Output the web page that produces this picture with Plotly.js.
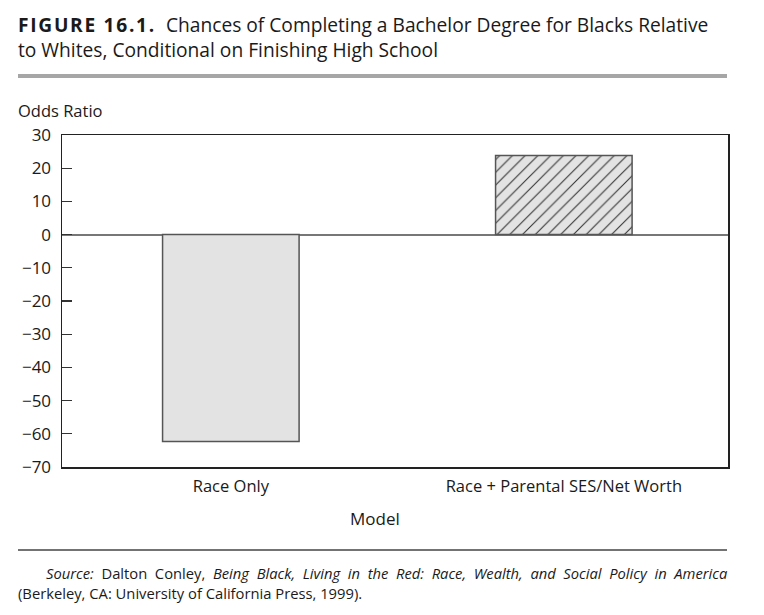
<!DOCTYPE html>
<html>
<head>
<meta charset="utf-8">
<script src="https://cdn.plot.ly/plotly-3.0.1.min.js"></script>
<style>html,body{margin:0;padding:0;background:#fff;}#chart{width:764px;height:615px;}</style>
</head>
<body>
<div id="chart"></div>
<script>
// ---- data ----
const categories = ["Race Only", "Race + Parental SES/Net Worth"];
const oddsRatio = [-62.3, 23.8];
const yTickValues = [30, 20, 10, 0, -10, -20, -30, -40, -50, -60, -70];
const titleLine1Bold = "FIGURE 16.1.";
const titleLine1 = "Chances of Completing a Bachelor Degree for Blacks Relative";
const titleLine2 = "to Whites, Conditional on Finishing High School";
const yTitle = "Odds Ratio";
const xTitle = "Model";
const sourceLine1 = '<span style="word-spacing:3.8px"><i>Source:</i> Dalton Conley, <i>Being Black, Living in the Red: Race, Wealth, and Social Policy in America</i></span>';
const sourceLine2 = "(Berkeley, CA: University of California Press, 1999).";

// ---- layout helpers (pixel -> paper) ----
const W = 764, H = 615, L = 62, R = 36, T = 135, B = 148;
const pw = W - L - R, ph = H - T - B;
const px = x => (x - L) / pw;
const py = y => (H - B - y) / ph;

const FONT = "Open Sans, Noto Sans, sans-serif";
const TXT = "#1a1a1a";

const trace = {
  type: "bar",
  x: categories,
  y: oddsRatio,
  width: 0.41,
  marker: {
    color: "#e3e3e3",
    line: {color: "#555555", width: 1.5},
    pattern: {
      shape: ["", "/"],
      bgcolor: "#e3e3e3",
      fgcolor: "#333333",
      size: 9,
      solidity: 0.12,
      fillmode: "replace"
    }
  },
  hoverinfo: "skip"
};

const layout = {
  width: W, height: H,
  margin: {l: L, r: R, t: T, b: B, pad: 0},
  paper_bgcolor: "#ffffff",
  plot_bgcolor: "#ffffff",
  showlegend: false,
  font: {family: FONT, color: TXT, size: 16},
  xaxis: {
    type: "category",
    range: [-0.507, 1.493],
    showline: true, mirror: true, linecolor: "#222222", linewidth: 1.5,
    ticks: "", showgrid: false, zeroline: false,
    tickfont: {family: FONT, size: 16.5, color: TXT},
    ticklabelstandoff: 4
  },
  yaxis: {
    range: [-70, 30],
    tickvals: yTickValues,
    ticks: "inside", ticklen: 10, tickwidth: 1.3, tickcolor: "#333333",
    showline: true, mirror: true, linecolor: "#222222", linewidth: 1.5,
    showgrid: false,
    zeroline: true, zerolinecolor: "#777777", zerolinewidth: 2,
    tickfont: {family: FONT, size: 17, color: TXT},
    ticklabelstandoff: 6
  },
  shapes: [
    {type: "line", xref: "paper", yref: "paper", x0: px(18), x1: px(727), y0: py(76), y1: py(76),
     line: {color: "#a6a6a6", width: 4}},
    {type: "line", xref: "paper", yref: "paper", x0: px(18), x1: px(727), y0: py(550), y1: py(550),
     line: {color: "#444444", width: 1.3}}
  ],
  annotations: [
    {xref: "paper", yref: "paper", x: px(16), y: py(37.5), xanchor: "left", yanchor: "middle", showarrow: false,
     align: "left",
     text: '<b><span style="letter-spacing:1.7px">' + titleLine1Bold + '</span></b>  ' + titleLine1 + '<br>' + titleLine2,
     font: {family: FONT, size: 19.2, color: TXT}},
    {xref: "paper", yref: "paper", x: px(16), y: py(110.5), xanchor: "left", yanchor: "middle", showarrow: false,
     text: yTitle, font: {family: FONT, size: 16.5, color: TXT}},
    {xref: "paper", yref: "paper", x: px(374.5), y: py(518), xanchor: "center", yanchor: "middle", showarrow: false,
     text: xTitle, font: {family: FONT, size: 17, color: TXT}},
    {xref: "paper", yref: "paper", x: px(44), y: py(572.5), xanchor: "left", yanchor: "middle", showarrow: false,
     text: sourceLine1, font: {family: FONT, size: 14.75, color: TXT}},
    {xref: "paper", yref: "paper", x: px(16), y: py(592.5), xanchor: "left", yanchor: "middle", showarrow: false,
     text: sourceLine2, font: {family: FONT, size: 14.75, color: TXT}}
  ]
};

Plotly.newPlot("chart", [trace], layout, {displayModeBar: false, staticPlot: true});
</script>
</body>
</html>
